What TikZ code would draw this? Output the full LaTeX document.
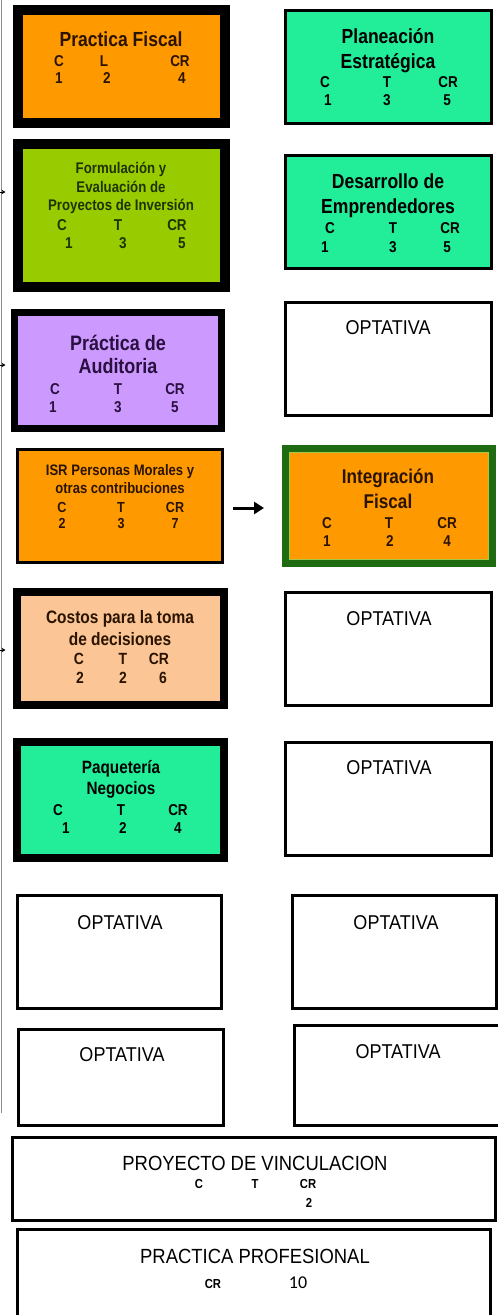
\documentclass[tikz,border=0pt]{standalone}
\usepackage{fontspec}
\setmainfont{Liberation Sans}
\newfontfamily\nar[FakeStretch=0.9]{Liberation Sans}
\newfontfamily\narb[FakeStretch=0.86]{Liberation Sans}
\newfontfamily\calfont{Carlito}
\usetikzlibrary{arrows.meta}
\definecolor{orng}{HTML}{FF9900}
\definecolor{mint}{HTML}{22EE99}
\definecolor{ygreen}{HTML}{99CC00}
\definecolor{lilac}{HTML}{CC99FF}
\definecolor{peach}{HTML}{FBC596}
\definecolor{dgreen}{HTML}{1F6B12}
\definecolor{lgreenline}{HTML}{A8C848}
\definecolor{fetext}{HTML}{1E3300}
\definecolor{autext}{HTML}{2A1040}
\definecolor{ortext}{HTML}{2A1400}
\tikzset{
  box/.style={rectangle, draw=black, line width=3pt, inner sep=0pt, fill=white},
  bt/.style={anchor=base, inner sep=0pt, font=\narb\bfseries\fontsize{#1}{#1}\selectfont},
  rt/.style={anchor=base, inner sep=0pt, font=\nar\fontsize{#1}{#1}\selectfont},
  sidearrow/.style={draw=black, line width=0.8pt, -{Stealth[length=4pt,width=4.5pt]}},
  mainarrow/.style={draw=black, line width=3pt, -{Triangle[length=10pt,width=12pt]}},
  rail/.style={draw=black!45, line width=1.8pt},
}
\newcommand\trow[9]{%
  \node[bt=#9] (#1a) at (#3,#2) {#6};
  \node[bt=#9] (#1b) at (#4,#2) {#7};
  \node[bt=#9] (#1c) at (#5,#2) {#8};}
\begin{document}
\begin{tikzpicture}[x=1pt,y=-1pt]
\useasboundingbox (0,0) rectangle (498,1315);
\clip (0,0) rectangle (498,1315);
\fill[white] (0,0) rectangle (498,1315);

% left rail with small arrows
\coordinate (railtop) at (1.5,0);
\coordinate (railbot) at (1.5,1113);
\draw[rail] (railtop) -- (railbot);
\coordinate (s1) at (0,192); \coordinate (s1t) at (5.5,192);
\coordinate (s2) at (0,365); \coordinate (s2t) at (5.5,365);
\coordinate (s3) at (0,650); \coordinate (s3t) at (5.5,650);
\draw[sidearrow] (s1) -- (s1t);
\draw[sidearrow] (s2) -- (s2t);
\draw[sidearrow] (s3) -- (s3t);

% boxes
\node[box, line width=10pt, fill=orng, minimum width=207pt, minimum height=113pt] (pf) at (121.5,66.5) {};
\node[box, fill=mint, minimum width=206pt, minimum height=113pt] (pe) at (388.5,67) {};
\node[box, line width=10pt, fill=ygreen, minimum width=207pt, minimum height=143pt] (fe) at (121.5,215.5) {};
\node[box, fill=mint, minimum width=206pt, minimum height=113pt] (de) at (388.5,212) {};
\node[box, line width=7pt, fill=lilac, minimum width=207pt, minimum height=116pt] (au) at (118,370.5) {};
\node[box, minimum width=206pt, minimum height=113pt] (op1) at (388.5,359) {};
\node[box, fill=orng, minimum width=205pt, minimum height=113pt] (isr) at (120,506) {};
\node[box, draw=dgreen, line width=7pt, fill=orng, minimum width=207pt, minimum height=115pt] (if) at (389,506) {};
\draw[lgreenline, line width=1.3pt] (289.75,452.75) rectangle (488.25,559.25);
\node[box, line width=8pt, fill=peach, minimum width=207pt, minimum height=113pt] (co) at (120.5,648.5) {};
\node[box, minimum width=206pt, minimum height=113pt] (op2) at (388.5,649) {};
\node[box, line width=8pt, fill=mint, minimum width=207pt, minimum height=116pt] (pq) at (120.5,800) {};
\node[box, minimum width=206pt, minimum height=113pt] (op3) at (388.5,799) {};
\node[box, minimum width=204pt, minimum height=113pt] (op4) at (119.5,952) {};
\node[box, minimum width=204pt, minimum height=113pt] (op5) at (394.5,952) {};
\node[box, minimum width=205pt, minimum height=96pt] (op6) at (121,1077.5) {};
\node[box, minimum width=207.5pt, minimum height=100pt] (op7) at (398.25,1075.5) {};
\node[box, minimum width=483pt, minimum height=83pt] (pv) at (254,1179) {};
\node[box, minimum width=473pt, minimum height=95.5pt] (pp) at (254,1277.25) {};

% arrow ISR -> Integracion
\coordinate (ma1) at (233,508);
\coordinate (ma2) at (264,508);
\draw[mainarrow] (ma1) -- (ma2);

% Practica Fiscal
\begin{scope}[every node/.append style={text=ortext}]
\node[bt=20.4] (pft) at (121,46) {Practica Fiscal};
\trow{pfh}{66}{59}{104}{180}{C}{L}{CR}{15.7}
\trow{pfn}{83}{59}{107}{182}{1}{2}{4}{15.7}
\end{scope}

% Planeacion Estrategica
\node[bt=20.4] (pet1) at (388,43) {Planeación};
\node[bt=20.4] (pet2) at (388,68) {Estratégica};
\trow{peh}{87}{325}{387}{448}{C}{T}{CR}{15.7}
\trow{pen}{105}{328}{387}{447}{1}{3}{5}{15.7}

% Formulacion
\begin{scope}[every node/.append style={text=fetext}]
\node[bt=15.4] (fet1) at (121,173) {Formulación y};
\node[bt=15.4] (fet2) at (121,192) {Evaluación de};
\node[bt=15.4] (fet3) at (121,210) {Proyectos de Inversión};
\trow{feh}{230}{62}{118}{177}{C}{T}{CR}{15.7}
\trow{fen}{248}{69}{123}{182}{1}{3}{5}{15.7}
\end{scope}

% Desarrollo
\node[bt=20.4] (det1) at (388,188) {Desarrollo de};
\node[bt=20.4] (det2) at (388,213) {Emprendedores};
\trow{deh}{233}{330}{393}{450}{C}{T}{CR}{15.7}
\trow{den}{252}{325}{393}{447}{1}{3}{5}{15.7}

% Auditoria
\begin{scope}[every node/.append style={text=autext}]
\node[bt=20.9] (aut1) at (118,350) {Práctica de};
\node[bt=20.9] (aut2) at (118,373) {Auditoria};
\trow{auh}{394}{55}{118}{175}{C}{T}{CR}{15.7}
\trow{aun}{412}{53}{118}{175}{1}{3}{5}{15.7}
\end{scope}

\node[rt=20] (op1t) at (388,334) {OPTATIVA};

% ISR
\begin{scope}[every node/.append style={text=ortext}]
\node[bt=15.2] (isrt1) at (120,475) {ISR Personas Morales y};
\node[bt=15.2] (isrt2) at (120,493) {otras contribuciones};
\trow{isrh}{512}{62}{121}{175}{C}{T}{CR}{14.6}
\trow{isrn}{528}{62}{121}{175}{2}{3}{7}{14.6}

% Integracion
\node[bt=19.9] (ift1) at (388,483) {Integración};
\node[bt=19.9] (ift2) at (388,508) {Fiscal};
\trow{ifh}{528}{327}{389}{447}{C}{T}{CR}{15.7}
\trow{ifn}{546}{327}{390}{447}{1}{2}{4}{15.7}

% Costos
\node[bt=18] (cot1) at (120,623) {Costos para la toma};
\node[bt=18] (cot2) at (120,645) {de decisiones};
\trow{coh}{664}{79}{123}{159}{C}{T}{CR}{16.2}
\trow{con}{683}{80}{123}{163}{2}{2}{6}{16.2}
\end{scope}

\node[rt=20] (op2t) at (389,625) {OPTATIVA};

% Paqueteria
\node[bt=17.8] (pqt1) at (121,773) {Paquetería};
\node[bt=17.8] (pqt2) at (121,794) {Negocios};
\trow{pqh}{815}{58}{121}{178}{C}{T}{CR}{15.7}
\trow{pqn}{833}{66}{123}{178}{1}{2}{4}{15.7}

\node[rt=20] (op3t) at (389,774) {OPTATIVA};
\node[rt=20] (op4t) at (120,929) {OPTATIVA};
\node[rt=20] (op5t) at (396,929) {OPTATIVA};
\node[rt=20] (op6t) at (122,1061) {OPTATIVA};
\node[rt=20] (op7t) at (398,1058) {OPTATIVA};

% Proyecto de vinculacion
\node[rt=20.5] (pvt) at (255,1170) {PROYECTO DE VINCULACION};
\trow{pvh}{1188}{199}{255}{308}{C}{T}{CR}{13.1}
\node[bt=13.1] (pvn) at (309,1207) {2};

% Practica profesional
\node[rt=20.5] (ppt) at (255,1263) {PRACTICA PROFESIONAL};
\node[bt=13.1] (ppcr) at (213,1288) {CR};
\node[anchor=base, inner sep=0pt, font=\calfont\fontsize{18}{18}\selectfont] (ppn) at (298,1288) {10};
\end{tikzpicture}
\end{document}
